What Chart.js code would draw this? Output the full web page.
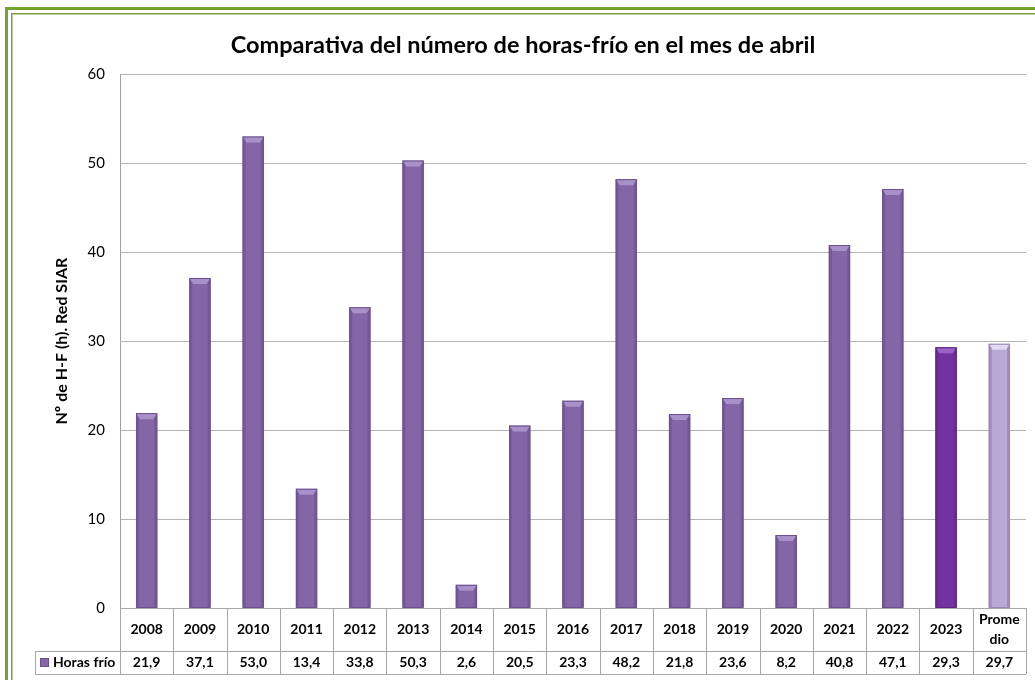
<!DOCTYPE html>
<html><head><meta charset="utf-8">
<script src="https://cdn.jsdelivr.net/npm/chart.js@4/dist/chart.umd.min.js"></script>
<style>
html,body{margin:0;padding:0;background:#fff;overflow:hidden;}
canvas{display:block;}
</style></head>
<body>
<canvas id="c" width="1035" height="680"></canvas>
<script>
// ---- data ----
const categories = ['2008','2009','2010','2011','2012','2013','2014','2015','2016','2017','2018','2019','2020','2021','2022','2023','Promedio'];
const headerLabels = [['2008'],['2009'],['2010'],['2011'],['2012'],['2013'],['2014'],['2015'],['2016'],['2017'],['2018'],['2019'],['2020'],['2021'],['2022'],['2023'],['Prome','dio']];
const seriesName = 'Horas frío';
const horasFrio = [21.9,37.1,53.0,13.4,33.8,50.3,2.6,20.5,23.3,48.2,21.8,23.6,8.2,40.8,47.1,29.3,29.7];
const yTicks = [0,10,20,30,40,50,60];
const titleText = 'Comparativa del número de horas-frío en el mes de abril';
const yTitle = 'Nº de H-F (h). Red SIAR';

// ---- styles ----
const FONT = 'Lato, "Open Sans", "DejaVu Sans", sans-serif';
function fillFor(i){ const c = categories[i]; return c === '2023' ? '#7331A1' : (c === 'Promedio' ? '#B9A8D3' : '#8466A8'); }
function edgeFor(i){ const c = categories[i]; return c === '2023' ? '#5B2382' : (c === 'Promedio' ? '#9A88B6' : '#6A5090'); }
function capFor(i){ const c = categories[i]; return c === '2023' ? '#9A63C6' : (c === 'Promedio' ? '#E4DAF0' : '#A891C8'); }
function fmt(v){ return v.toFixed(1).replace('.', ','); }

const framePlugin = {
  id: 'frame',
  beforeDraw(chart){
    const ctx = chart.ctx, W = chart.width, H = chart.height;
    ctx.save();
    ctx.fillStyle = '#fff';
    ctx.fillRect(0, 0, W, H);
    ctx.fillStyle = '#74A52B';
    ctx.fillRect(5, 7, W - 5, 3);
    ctx.fillRect(5, 7, 3, H - 7);
    ctx.fillStyle = '#7E9E44';
    ctx.fillRect(11, 13, W - 11, 1.5);
    ctx.fillRect(11, 13, 1.5, H - 13);
    ctx.restore();
  }
};

const bevelPlugin = {
  id: 'bevel',
  afterDatasetsDraw(chart){
    const ctx = chart.ctx;
    chart.getDatasetMeta(0).data.forEach((bar, i) => {
      const {x, y, width, base} = bar.getProps(['x','y','width','base'], true);
      const l = x - width/2, r = x + width/2;
      const h = Math.min(6, (base - y) / 2);
      ctx.save();
      ctx.fillStyle = 'rgba(60,30,90,0.18)';
      ctx.fillRect(l, y, 3, base - y);
      ctx.fillRect(r - 3, y, 3, base - y);
      ctx.fillStyle = capFor(i);
      ctx.beginPath();
      ctx.moveTo(l + 0.5, y + 0.5);
      ctx.lineTo(r - 0.5, y + 0.5);
      ctx.lineTo(r - 4, y + h);
      ctx.lineTo(l + 4, y + h);
      ctx.closePath();
      ctx.fill();
      ctx.strokeStyle = edgeFor(i);
      ctx.lineWidth = 1;
      ctx.strokeRect(l + 0.5, y + 0.5, width - 1, base - y - 0.5);
      ctx.restore();
    });
  }
};

const tablePlugin = {
  id: 'dataTable',
  afterDraw(chart){
    const ctx = chart.ctx, xs = chart.scales.x, a = chart.chartArea;
    const n = categories.length;
    const cw = xs.getPixelForValue(1) - xs.getPixelForValue(0);
    const top = a.bottom, mid = a.bottom + 43, bot = a.bottom + 66;
    const legLeft = 35;
    ctx.save();
    ctx.strokeStyle = '#A6A6A6';
    ctx.lineWidth = 1;
    const line = (x1,y1,x2,y2) => { ctx.beginPath(); ctx.moveTo(x1,y1); ctx.lineTo(x2,y2); ctx.stroke(); };
    line(a.left, top + 0.5, a.right, top + 0.5);
    line(legLeft, mid + 0.5, a.right, mid + 0.5);
    line(legLeft, bot + 0.5, a.right, bot + 0.5);
    for (let i = 0; i <= n; i++) {
      const px = Math.round(xs.getPixelForValue(Math.min(i, n - 1)) + (i === n ? cw/2 : -cw/2)) + 0.5;
      line(px, top, px, bot);
    }
    line(legLeft + 0.5, mid, legLeft + 0.5, bot);
    ctx.fillStyle = '#000';
    ctx.font = 'bold 14px ' + FONT;
    ctx.textAlign = 'center';
    ctx.textBaseline = 'middle';
    const hc = (top + mid) / 2, dc = (mid + bot) / 2;
    const lh = 20;
    headerLabels.forEach((lines, i) => {
      const px = xs.getPixelForValue(i);
      const y0 = hc - (lines.length - 1) * lh / 2;
      lines.forEach((t, k) => ctx.fillText(t, px, y0 + k * lh));
    });
    horasFrio.forEach((v, i) => ctx.fillText(fmt(v), xs.getPixelForValue(i), dc));
    ctx.fillStyle = '#8466A8';
    ctx.fillRect(40, dc - 4.5, 9, 9);
    ctx.strokeStyle = '#6A5090';
    ctx.strokeRect(40.5, dc - 4, 8, 8);
    ctx.fillStyle = '#000';
    ctx.textAlign = 'left';
    ctx.fillText(seriesName, 53, dc);
    ctx.restore();
  }
};

new Chart(document.getElementById('c'), {
  type: 'bar',
  data: {
    labels: categories,
    datasets: [{
      label: seriesName,
      data: horasFrio,
      backgroundColor: ctx => fillFor(ctx.dataIndex),
      borderWidth: 0,
      categoryPercentage: 1,
      barPercentage: 0.4
    }]
  },
  options: {
    responsive: false,
    devicePixelRatio: 1,
    animation: false,
    layout: { padding: { left: 20, right: 9, top: 18, bottom: 0 } },
    plugins: {
      legend: { display: false },
      tooltip: { enabled: false },
      title: {
        display: true,
        text: titleText,
        color: '#000',
        font: { family: FONT, size: 23.5, weight: 'bold' },
        padding: { top: 13, bottom: 15 }
      }
    },
    scales: {
      x: {
        ticks: { display: false },
        grid: { display: false, drawTicks: false },
        border: { display: false },
        afterFit(s){ s.height = 72; }
      },
      y: {
        min: yTicks[0],
        max: yTicks[yTicks.length - 1],
        afterBuildTicks(s){ s.ticks = yTicks.map(v => ({ value: v })); },
        ticks: { color: '#000', font: { family: FONT, size: 15 }, padding: 15 },
        grid: { color: '#B3B3B3', drawTicks: false },
        border: { color: '#A0A0A0' },
        title: {
          display: true,
          text: yTitle,
          color: '#000',
          font: { family: FONT, size: 16, weight: 'bold' },
          padding: { top: 32, bottom: 0 }
        },
        afterFit(s){ s.width = 100; }
      }
    }
  },
  plugins: [framePlugin, bevelPlugin, tablePlugin]
});
</script>
</body></html>
